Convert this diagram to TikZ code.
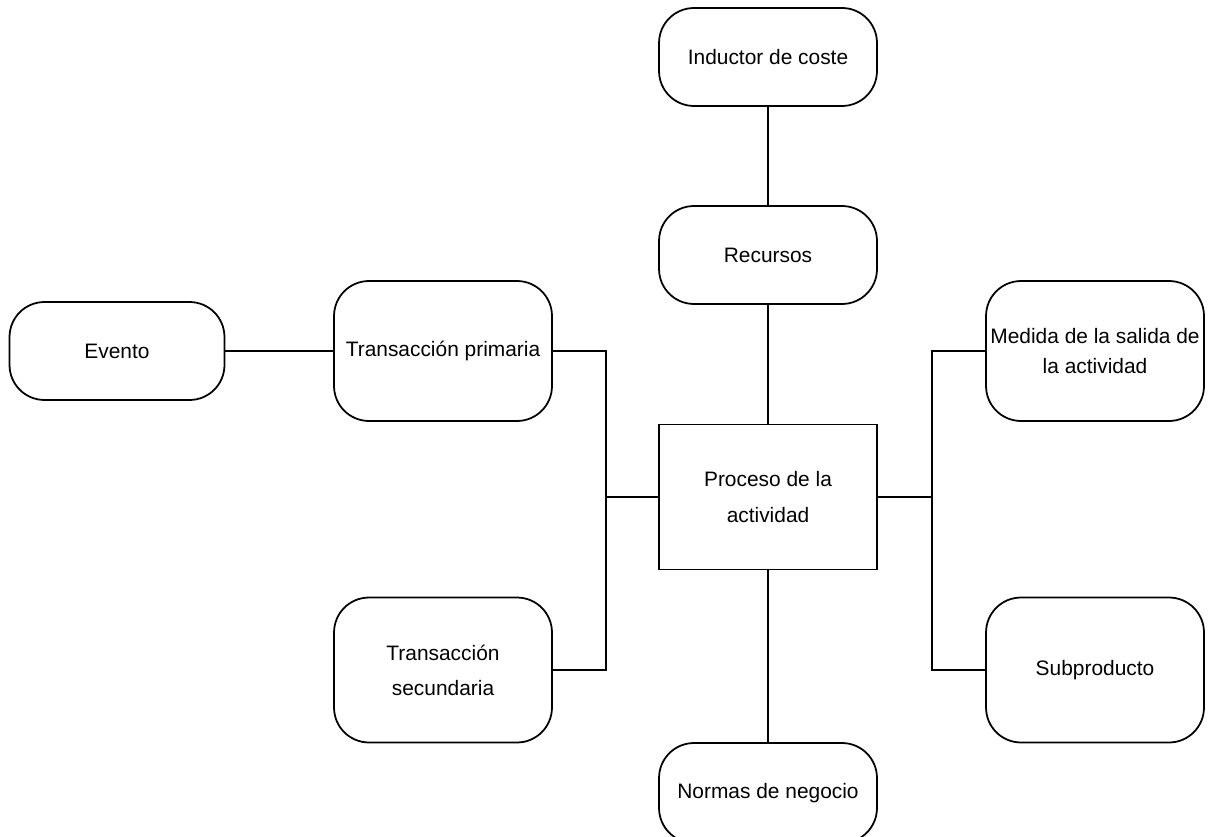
\documentclass[tikz,border=0pt]{standalone}
\usepackage{fontspec}
\setmainfont{Liberation Sans}

\begin{document}
\begin{tikzpicture}
  [x=0.02cm,y=-0.02cm,line width=1pt,
   every node/.style={draw,align=center,inner sep=0pt,font=\fontsize{11.9}{17}\selectfont},
   box/.style={rounded corners=0.7cm,minimum width=4.36cm,minimum height=1.96cm},
   tall/.style={box,minimum height=2.9cm},
   wide/.style={font=\fontsize{11.9}{20}\selectfont}]
  \useasboundingbox (0,0) rectangle (1212,837);
  \node[box] (ind) at (768,57) {Inductor de coste};
  \node[box] (rec) at (768,255) {Recursos};
  \node[box,minimum width=4.3cm] (ev) at (117,351) {Evento};
  \node[tall,minimum height=2.8cm] (tp) at (443,351) {Transacción primaria};
  \node[tall,wide] (ts) at (443,670) {Transacción\\secundaria};
  \node[wide,minimum width=4.36cm,minimum height=2.9cm] (proc) at (768,497) {Proceso de la\\actividad};
  \node[tall,minimum height=2.8cm] (med) at (1095,351) {Medida de la salida de\\la actividad};
  \node[tall] (sub) at (1095,670) {Subproducto};
  \node[box,minimum height=2cm] (nor) at (768,793) {Normas de negocio};
  \coordinate (jl) at (606,497);
  \coordinate (jr) at (932,497);

  \foreach \from/\to in {ind/rec,rec/proc,proc/nor,ev/tp,jl/proc,proc/jr}
    \draw (\from) -- (\to);
  \draw (tp) -| (jl) |- (ts);
  \draw (med) -| (jr) |- (sub);
\end{tikzpicture}
\end{document}
